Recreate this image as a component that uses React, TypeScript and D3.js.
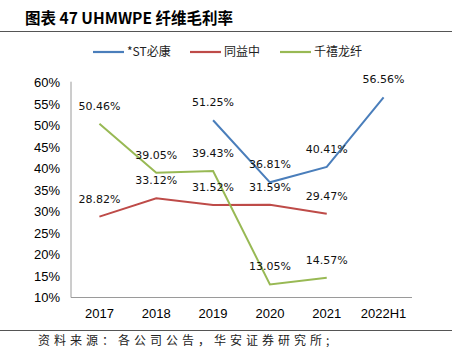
import React from "react";
import * as d3 from "d3";

const categories = ["2017", "2018", "2019", "2020", "2021", "2022H1"];
const seriesNames = ["*ST必康", "同益中", "千禧龙纤"];
const bikang: (number | null)[] = [null, null, 51.25, 36.81, 40.41, 56.56];
const tongyi: (number | null)[] = [28.82, 33.12, 31.52, 31.59, 29.47, null];
const qianxi: (number | null)[] = [50.46, 39.05, 39.43, 13.05, 14.57, null];
const yTicks = [10, 15, 20, 25, 30, 35, 40, 45, 50, 55, 60];
const colors = ["#4a7ebb", "#be4b48", "#98b954"];

export default function App() {
  const W = 454, H = 355;
  const x0 = 71, x1 = 412, yTop = 82.7, yBot = 297.5;
  const x = d3.scaleBand().domain(categories).range([x0, x1]);
  const y = d3.scaleLinear().domain([10, 60]).range([yBot, yTop]);
  const series = [bikang, tongyi, qianxi];
  const line = d3
    .line<number | null>()
    .defined((d) => d !== null)
    .x((_, i) => (x(categories[i]) as number) + x.bandwidth() / 2)
    .y((d) => y(d as number));
  const cjk = "'Noto Sans CJK SC', 'Noto Sans', sans-serif";
  const num = "'Liberation Sans', Arial, sans-serif";
  const legendX = [93, 190, 280];
  return (
    <svg width={W} height={H} style={{ position: "absolute", left: 0, top: 0, background: "#fff" }}>
      <text x={25} y={24} fontFamily={cjk} fontWeight="bold" fontSize={15.5} fill="#000">
        图表 47 UHMWPE 纤维毛利率
      </text>
      <line x1={0} x2={452} y1={31.5} y2={31.5} stroke="#555" strokeWidth={1} />
      {seriesNames.map((n, i) => (
        <g key={n}>
          <line x1={legendX[i]} x2={legendX[i] + 31} y1={52} y2={52} stroke={colors[i]} strokeWidth={2.2} />
          <text x={legendX[i] + 34} y={56} fontFamily={cjk} fontSize={12} fill="#222">
            {n}
          </text>
        </g>
      ))}
      <line x1={x0} x2={x0} y1={yTop - 1} y2={yBot} stroke="#9a9a9a" strokeWidth={1} />
      <line x1={x0} x2={x1} y1={yBot} y2={yBot} stroke="#9a9a9a" strokeWidth={1} />
      {yTicks.map((t) => (
        <text key={t} x={60} y={y(t) + 4.5} textAnchor="end" fontFamily={num} fontSize={13} fill="#000">
          {t}%
        </text>
      ))}
      {categories.map((c) => (
        <text key={c} x={(x(c) as number) + x.bandwidth() / 2} y={318} textAnchor="middle" fontFamily={num} fontSize={13} fill="#000">
          {c}
        </text>
      ))}
      {series.map((s, i) => (
        <path key={i} d={line(s) || ""} fill="none" stroke={colors[i]} strokeWidth={2} />
      ))}
      {series.map((s, i) =>
        s.map((v, j) =>
          v === null ? null : (
            <text key={`${i}-${j}`} x={(x(categories[j]) as number) + x.bandwidth() / 2} y={y(v) - 14} textAnchor="middle" fontFamily="'DejaVu Sans', sans-serif" fontSize={11} fill="#111">
              {v.toFixed(2)}%
            </text>
          )
        )
      )}
      <line x1={0} x2={452} y1={330.5} y2={330.5} stroke="#555" strokeWidth={1} />
      <text x={38} y={345} fontFamily={cjk} fontSize={12} letterSpacing={4} fill="#222">
        资料来源：各公司公告，华安证券研究所;
      </text>
    </svg>
  );
}
